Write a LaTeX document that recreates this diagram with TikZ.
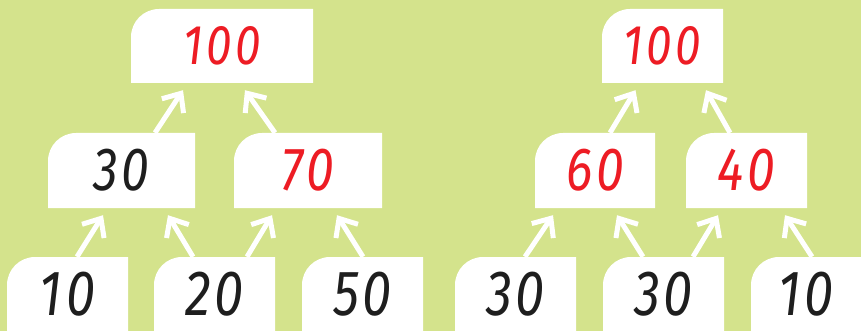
\documentclass[tikz,border=0pt]{standalone}
\usepackage{fontspec}
\newfontfamily\handfont[FakeStretch=0.82,LetterSpace=6]{Fira Sans}
\usetikzlibrary{arrows.meta,calc}
\definecolor{leafGreen}{RGB}{212,227,140}
\definecolor{sumRed}{RGB}{237,28,36}
\definecolor{inkBlack}{RGB}{30,30,30}
\tikzset{
  numbox/.style={minimum width=121pt, minimum height=74pt, inner sep=0pt,
    font=\handfont\itshape\fontsize{64}{64}\selectfont, text=inkBlack,
    path picture={\fill[white] (path picture bounding box.south west)
      -- ([yshift=-28pt]path picture bounding box.north west)
      arc[start angle=180, end angle=90, radius=28pt]
      -- (path picture bounding box.north east)
      -- (path picture bounding box.south east) -- cycle;}},
  sumbox/.style={numbox, text=sumRed},
  up/.style={white, line width=5pt, -{Straight Barb[length=15pt,width=26pt]}}
}
\begin{document}
\begin{tikzpicture}[x=1pt,y=-1pt]
  \clip (0,0) rectangle (861,331);
  \fill[leafGreen] (0,0) rectangle (861,331);

  % Left tree
  \node[sumbox, minimum width=182pt, font=\handfont\itshape\fontsize{56}{56}\selectfont] (l100) at (222,46) {100};
  \node[numbox, minimum width=147pt, minimum height=75pt, font=\handfont\itshape\fontsize{61}{61}\selectfont] (l30) at (121.5,170.5) {30};
  \node[sumbox, minimum width=148pt, minimum height=75pt, font=\handfont\itshape\fontsize{61}{61}\selectfont] (l70) at (308,170.5) {70};
  \node[numbox] (l10) at (67.5,294) {10};
  \node[numbox] (l20) at (214.5,294) {20};
  \node[numbox] (l50) at (362.5,294) {50};

  \draw[up] ([shift={(9.5,0)}]l10.north) -- ([shift={(-18.5,7)}]l30.south);
  \draw[up] ([shift={(-21.5,0)}]l20.north) -- ([shift={(46.5,7)}]l30.south);
  \draw[up] ([shift={(32.5,0)}]l20.north) -- ([shift={(-36,7)}]l70.south);
  \draw[up] ([shift={(0.5,0)}]l50.north) -- ([shift={(29,7)}]l70.south);
  \draw[up] ([shift={(33.5,0)}]l30.north) -- ([shift={(-39,7)}]l100.south);
  \draw[up] ([shift={(-33,0)}]l70.north) -- ([shift={(23,7)}]l100.south);

  % Right tree
  \node[sumbox, font=\handfont\itshape\fontsize{56}{56}\selectfont] (r100) at (662.5,46) {100};
  \node[sumbox, minimum width=120pt, minimum height=75pt, font=\handfont\itshape\fontsize{61}{61}\selectfont] (r60) at (595,170.5) {60};
  \node[sumbox, minimum height=75pt, font=\handfont\itshape\fontsize{61}{61}\selectfont] (r40) at (746.5,170.5) {40};
  \node[numbox] (r30a) at (515.5,294) {30};
  \node[numbox] (r30b) at (663.5,294) {30};
  \node[numbox, minimum width=110pt] (r10) at (806,294) {10};

  \draw[up] ([shift={(9.5,0)}]r30a.north) -- ([shift={(-42,7)}]r60.south);
  \draw[up] ([shift={(-20.5,0)}]r30b.north) -- ([shift={(22,7)}]r60.south);
  \draw[up] ([shift={(29.5,0)}]r30b.north) -- ([shift={(-28.5,7)}]r40.south);
  \draw[up] ([shift={(6,0)}]r10.north) -- ([shift={(38.5,7)}]r40.south);
  \draw[up] ([shift={(15,0)}]r60.north) -- ([shift={(-27,7)}]r100.south);
  \draw[up] ([shift={(-16.5,0)}]r40.north) -- ([shift={(43.5,7)}]r100.south);
\end{tikzpicture}
\end{document}
